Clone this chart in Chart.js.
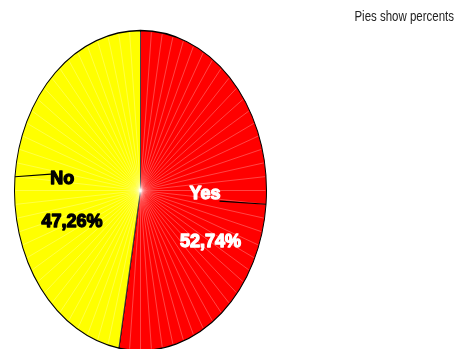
<!DOCTYPE html>
<html>
<head>
<meta charset="utf-8">
<script src="https://cdn.jsdelivr.net/npm/chart.js@4"></script>
<style>
  html, body { margin: 0; padding: 0; background: #ffffff; }
  canvas { display: block; }
</style>
</head>
<body>
<canvas id="pie" width="459" height="349"></canvas>
<script>
// ---- data ----
const categories = ['Yes', 'No'];
const percents = [52.74, 47.26];
const sliceColors = ['#ff0000', '#ffff00'];
const labelColors = ['#ffffff', '#000000'];
const captionText = 'Pies show percents';

// ---- look ----
// vertical stretch that turns the round pie into an upright oval
const STRETCH_Y = 160 / 126;
// label placement, in px, relative to the rim point at each slice's mid-angle
const labelLayout = [
  { name: [-61, -5.5], value: [-55.5, 42.3], lead: [-46.5, -3.2] },
  { name: [47.3, 7], value: [57, 50.7], lead: [36, -2.7] }
];
const LABEL_FONT = 'bold 18px "Liberation Sans", Arial, sans-serif';
const SEAM_STEP = Math.PI / 36; // thin light seams every 5 degrees

function fmtPercent(v) {
  return v.toFixed(2).replace('.', ',') + '%';
}

function rimPoint(arc, angle) {
  return {
    x: arc.x + arc.outerRadius * Math.cos(angle),
    y: arc.y + arc.outerRadius * STRETCH_Y * Math.sin(angle)
  };
}

// stretches the dataset drawing vertically and overlays fine radial seams
const ovalPlugin = {
  id: 'ovalPie',
  beforeDatasetsDraw(chart) {
    const arc = chart.getDatasetMeta(0).data[0];
    const ctx = chart.ctx;
    ctx.save();
    ctx.translate(arc.x, arc.y);
    ctx.scale(1, STRETCH_Y);
    ctx.translate(-arc.x, -arc.y);
  },
  afterDatasetsDraw(chart) {
    const ctx = chart.ctx;
    const arc = chart.getDatasetMeta(0).data[0];
    const r = arc.outerRadius - 1;
    ctx.lineWidth = 0.6;
    ctx.strokeStyle = 'rgba(255,255,255,0.4)';
    for (let a = -Math.PI / 2; a < Math.PI * 1.5 - 1e-6; a += SEAM_STEP) {
      ctx.beginPath();
      ctx.moveTo(arc.x, arc.y);
      ctx.lineTo(arc.x + r * Math.cos(a), arc.y + r * Math.sin(a));
      ctx.stroke();
    }
    ctx.restore();
  }
};

// slice names, percentages, leader lines and the caption
const labelPlugin = {
  id: 'sliceLabels',
  afterDraw(chart) {
    const ctx = chart.ctx;
    const meta = chart.getDatasetMeta(0);
    meta.data.forEach((arc, i) => {
      const mid = (arc.startAngle + arc.endAngle) / 2;
      const p = rimPoint(arc, mid);
      const lay = labelLayout[i];

      ctx.save();
      ctx.strokeStyle = '#000000';
      ctx.lineWidth = 1.2;
      ctx.beginPath();
      ctx.moveTo(p.x, p.y);
      ctx.lineTo(p.x + lay.lead[0], p.y + lay.lead[1]);
      ctx.stroke();

      ctx.font = LABEL_FONT;
      ctx.textAlign = 'center';
      ctx.textBaseline = 'alphabetic';
      ctx.fillStyle = labelColors[i];
      ctx.strokeStyle = labelColors[i];
      ctx.lineWidth = 1.3;
      ctx.lineJoin = 'round';
      const texts = [
        [categories[i], lay.name],
        [fmtPercent(percents[i]), lay.value]
      ];
      texts.forEach(([t, off]) => {
        const x = p.x + off[0], y = p.y + off[1];
        ctx.strokeText(t, x, y);
        ctx.fillText(t, x, y);
      });
      ctx.restore();
    });

    // narrow caption in the top right corner
    ctx.save();
    ctx.font = '14px "Liberation Sans", Arial, sans-serif';
    ctx.fillStyle = '#222222';
    ctx.textAlign = 'right';
    ctx.textBaseline = 'alphabetic';
    ctx.translate(454, 21);
    ctx.scale(0.82, 1);
    ctx.fillText(captionText, 0, 0);
    ctx.restore();
  }
};

new Chart(document.getElementById('pie'), {
  type: 'pie',
  data: {
    labels: categories,
    datasets: [{
      data: percents,
      backgroundColor: sliceColors,
      borderColor: '#000000',
      borderWidth: 1,
      hoverOffset: 0,
      clip: false
    }]
  },
  options: {
    responsive: false,
    animation: false,
    events: [],
    layout: { padding: { left: 14, right: 192, top: 64, bottom: 32 } },
    plugins: {
      legend: { display: false },
      tooltip: { enabled: false },
      title: { display: false }
    }
  },
  plugins: [ovalPlugin, labelPlugin]
});
</script>
</body>
</html>
